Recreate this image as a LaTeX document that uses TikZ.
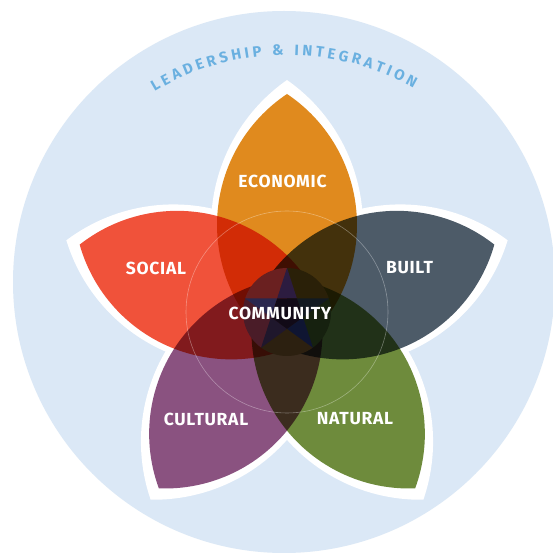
\documentclass[tikz,border=0pt]{standalone}
\usepackage{fontspec}
\setsansfont{Fira Sans}
\newfontfamily\lblfont[LetterSpace=4]{Fira Sans}
\usetikzlibrary{decorations.text,calc}
\definecolor{bgblue}{HTML}{DBE8F6}
\definecolor{arcblue}{HTML}{6AB0E0}
\definecolor{econ}{HTML}{E08A1E}
\definecolor{soc}{HTML}{F0523A}
\definecolor{blt}{HTML}{4D5B68}
\definecolor{nat}{HTML}{6E8B3C}
\definecolor{cult}{HTML}{8A5280}
\definecolor{wA}{HTML}{6A2020}
\definecolor{wB}{HTML}{2A2008}
\definecolor{wC}{HTML}{4A1C28}
\definecolor{wD}{HTML}{2C2010}
\definecolor{wE}{HTML}{16210F}
\definecolor{tA}{HTML}{2C1C40}
\definecolor{tB}{HTML}{2A274E}
\definecolor{tC}{HTML}{1F172C}
\definecolor{tD}{HTML}{0F1532}
\definecolor{tE}{HTML}{121A22}
\definecolor{core}{HTML}{110A17}
\newcommand{\whitelens}[1]{%
  \begin{scope}[shift={(287,243)},rotate=#1]
    \fill[white] (0,232) arc[start angle=55,end angle=-55,radius=178.22]
      arc[start angle=235,end angle=125,radius=178.22] -- cycle;
  \end{scope}}
\newcommand{\colorlens}[2]{%
  \begin{scope}[shift={(287,243)},rotate=#1]
    \fill[#2] (0,218) arc[start angle=56.23,end angle=-56.23,radius=157.58]
      arc[start angle=236.23,end angle=123.77,radius=157.58] -- cycle;
  \end{scope}}
\newcommand{\hubwedge}[2]{%
  \fill[#2] (C) -- ($(C)+(#1-36:44)$) arc[start angle=#1-36,end angle=#1+36,radius=44] -- cycle;}
\newcommand{\hubtip}[2]{%
  \fill[#2] ($(C)+(#1:44.2)$) -- ($(C)+(#1+36:16.8)$) -- ($(C)+(#1-36:16.8)$) -- cycle;}
\tikzset{lbl/.style={text=white,font=\lblfont\bfseries\fontsize{17.5}{17.5}\selectfont,inner sep=0pt,anchor=center}}
\begin{document}
\begin{tikzpicture}[x=1pt,y=1pt]
\useasboundingbox (0,0) rectangle (553,555);
\fill[white] (0,0) rectangle (553,555);
\fill[bgblue] (284,273) circle[radius=271];
\coordinate (C) at (287,243);
% arc text
\path[decorate,decoration={text along path,text align={fit to path},
  text={|\sffamily\bfseries\fontsize{15}{15}\selectfont\color{arcblue}|LEADERSHIP {\&} INTEGRATION}}]
  (C) ++(121:257) arc[start angle=121,end angle=60.5,radius=257];
% white outlines
\whitelens{0}\whitelens{72}\whitelens{144}\whitelens{216}\whitelens{288}
% petals
\begin{scope}[blend group=multiply]
\colorlens{0}{econ}
\colorlens{72}{soc}
\colorlens{144}{cult}
\colorlens{216}{nat}
\colorlens{288}{blt}
\end{scope}
% central hub
\hubwedge{126}{wA}
\hubwedge{54}{wB}
\hubwedge{198}{wC}
\hubwedge{270}{wD}
\hubwedge{342}{wE}
\hubtip{90}{tA}
\hubtip{162}{tB}
\hubtip{234}{tC}
\hubtip{306}{tD}
\hubtip{18}{tE}
\fill[core] ($(C)+(126:16.8)$) -- ($(C)+(198:16.8)$) -- ($(C)+(270:16.8)$)
  -- ($(C)+(342:16.8)$) -- ($(C)+(54:16.8)$) -- cycle;
\draw[white,opacity=0.35,line width=0.6pt] (C) circle[radius=101];
\node[lbl] (economic) at (282.5,374) {ECONOMIC};
\node[lbl] (social) at (156,287) {SOCIAL};
\node[lbl] (built) at (409.5,287) {BUILT};
\node[lbl] (community) at (280,242) {COMMUNITY};
\node[lbl] (cultural) at (206,136) {CULTURAL};
\node[lbl] (natural) at (355,136) {NATURAL};
\end{tikzpicture}
\end{document}
